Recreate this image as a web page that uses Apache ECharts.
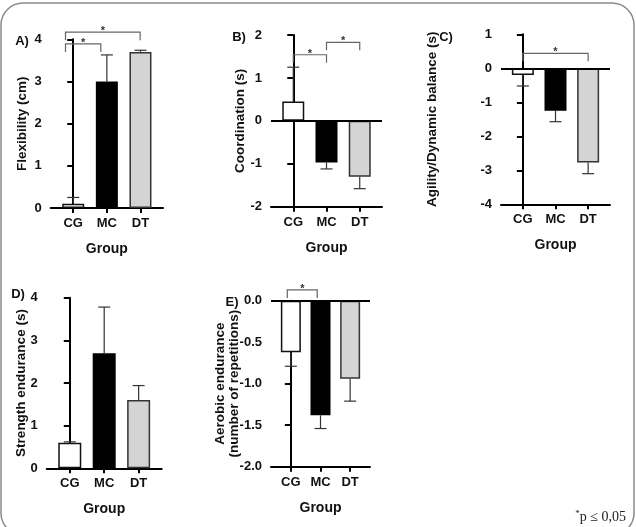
<!DOCTYPE html>
<html>
<head>
<meta charset="utf-8">
<script src="https://cdn.jsdelivr.net/npm/echarts@6/dist/echarts.min.js"></script>
<style>
html,body{margin:0;padding:0;background:#fff;}
#chart{width:636px;height:527px;}
</style>
</head>
<body>
<div id="chart"></div>
<script>
// ---------- data ----------
const categories = ['CG', 'MC', 'DT'];

const flexibilityMean = [0.1, 3.0, 3.7];
const flexibilitySem  = [0.15, 0.63, 0.04];

const coordinationMean = [0.45, -0.97, -1.3];
const coordinationSem  = [0.8, 0.15, 0.28];

const agilityMean = [-0.2, -1.25, -2.77];
const agilitySem  = [0.32, 0.32, 0.33];

const strengthMean = [0.6, 2.7, 1.6];
const strengthSem  = [0.02, 1.08, 0.34];

const aerobicMean = [-0.62, -1.38, -0.94];
const aerobicSem  = [0.17, 0.16, 0.27];

// significance brackets: [from position, to position, level]
const flexibilitySig  = [[-0.23, 0.82, 3.89], [-0.23, 1.99, 4.17]];
const coordinationSig = [[0, 1, 1.54], [1, 2, 1.83]];
const agilitySig      = [[0, 2, 0.44]];
const aerobicSig      = [[-0.12, 0.89, 0.13]];

// ---------- helpers ----------
const FONT = '"Liberation Sans", Arial, sans-serif';
const barStyles = [
  { color: '#ffffff', borderColor: '#111', borderWidth: 1.5 },
  { color: '#000000', borderColor: '#000', borderWidth: 1.5 },
  { color: '#d4d4d4', borderColor: '#333', borderWidth: 1.5 }
];

const panels = [
  { mean: flexibilityMean, sem: flexibilitySem, sig: flexibilitySig,
    grid: { left: 50.7, top: 39.3, width: 112.3, height: 168.7 },
    y: { min: 0, max: 4, interval: 1, dec: 0 }, name: 'Flexibility (cm)', nameGap: 21,
    zero: false, barW: 22 },
  { mean: coordinationMean, sem: coordinationSem, sig: coordinationSig,
    grid: { left: 271, top: 35, width: 111, height: 171.7 },
    y: { min: -2, max: 2, interval: 1, dec: 0 }, name: 'Coordination (s)', nameGap: 24,
    zero: true, barW: 22 },
  { mean: agilityMean, sem: agilitySem, sig: agilitySig,
    grid: { left: 501, top: 34.3, width: 109, height: 170 },
    y: { min: -4, max: 1, interval: 1, dec: 0 }, name: 'Agility/Dynamic balance (s)', nameGap: 62,
    zero: true, barW: 22 },
  { mean: strengthMean, sem: strengthSem, sig: [],
    grid: { left: 46.7, top: 297.7, width: 115, height: 170.6 },
    y: { min: 0, max: 4, interval: 1, dec: 0 }, name: 'Strength endurance (s)', nameGap: 18,
    zero: false, barW: 23 },
  { mean: aerobicMean, sem: aerobicSem, sig: aerobicSig,
    grid: { left: 271, top: 300.7, width: 99, height: 166 },
    y: { min: -2, max: 0, interval: 0.5, dec: 1 }, name: 'Aerobic endurance\n(number of repetitions)', nameGap: 30,
    zero: true, barW: 20 }
];

const grids = [], xAxes = [], yAxes = [], series = [];

panels.forEach((p, gi) => {
  grids.push(Object.assign({}, p.grid));
  xAxes.push({
    type: 'value', gridIndex: gi, min: -0.67, max: 2.67,
    axisLine: { show: true, onZero: false, lineStyle: { color: '#000', width: 2 } },
    axisTick: { show: true, length: 5, customValues: [0, 1, 2], lineStyle: { color: '#000', width: 2 } },
    axisLabel: { customValues: [0, 1, 2], margin: 9, formatter: v => categories[Math.round(v)] || '',
      color: '#111', fontFamily: FONT, fontWeight: 'bold', fontSize: 13 },
    splitLine: { show: false },
    name: 'Group', nameLocation: 'middle', nameGap: 34, nameMoveOverlap: false,
    nameTextStyle: { color: '#111', fontFamily: FONT, fontWeight: 'bold', fontSize: 14 }
  });
  yAxes.push({
    type: 'value', gridIndex: gi, min: p.y.min, max: p.y.max, interval: p.y.interval,
    axisLine: { show: true, lineStyle: { color: '#000', width: 2 } },
    axisTick: { show: true, length: 6, lineStyle: { color: '#000', width: 2 } },
    axisLabel: { margin: 9, formatter: v => v.toFixed(p.y.dec),
      color: '#111', fontFamily: FONT, fontWeight: 'bold', fontSize: 13 },
    splitLine: { show: false },
    name: p.name, nameLocation: 'middle', nameRotate: 90, nameGap: p.nameGap, nameMoveOverlap: false,
    nameTextStyle: { color: '#111', fontFamily: FONT, fontWeight: 'bold', fontSize: 13.5, lineHeight: 14 }
  });

  const bar = {
    type: 'bar', xAxisIndex: gi, yAxisIndex: gi, barWidth: p.barW, silent: true, z: 2,
    data: p.mean.map((m, i) => ({ value: [i, m], itemStyle: barStyles[i] }))
  };
  if (p.zero) {
    bar.markLine = { silent: true, symbol: 'none', label: { show: false },
      lineStyle: { color: '#000', width: 2, type: 'solid' }, data: [{ yAxis: 0 }] };
  }
  series.push(bar);

  series.push({
    type: 'custom', xAxisIndex: gi, yAxisIndex: gi, silent: true, z: 3, clip: false,
    data: p.mean.map((m, i) => [i, m, m + (m >= 0 ? p.sem[i] : -p.sem[i])]),
    encode: { x: 0, y: [1, 2] },
    renderItem: (params, api) => {
      const a = api.coord([api.value(0), api.value(1)]);
      const b = api.coord([api.value(0), api.value(2)]);
      const st = { stroke: '#333', lineWidth: 1.2 };
      return { type: 'group', children: [
        { type: 'line', shape: { x1: a[0], y1: a[1], x2: b[0], y2: b[1] }, style: st },
        { type: 'line', shape: { x1: b[0] - 6, y1: b[1], x2: b[0] + 6, y2: b[1] }, style: st }
      ] };
    }
  });

  if (p.sig.length) {
    series.push({
      type: 'custom', xAxisIndex: gi, yAxisIndex: gi, silent: true, z: 4, clip: false,
      data: p.sig,
      encode: { x: [0, 1], y: 2 },
      renderItem: (params, api) => {
        const a = api.coord([api.value(0), api.value(2)]);
        const b = api.coord([api.value(1), api.value(2)]);
        return { type: 'group', children: [
          { type: 'polyline', shape: { points: [[a[0], a[1] + 8], [a[0], a[1]], [b[0], b[1]], [b[0], b[1] + 8]] },
            style: { stroke: '#666', lineWidth: 1.2, fill: null } },
          { type: 'text', x: (a[0] + b[0]) / 2, y: a[1] - 1,
            style: { text: '*', fill: '#333', font: 'bold 11px ' + FONT, align: 'center', verticalAlign: 'middle' } }
        ] };
      }
    });
  }
});

const panelLetters = [
  { t: 'A)', x: 22, y: 41 }, { t: 'B)', x: 239, y: 37 }, { t: 'C)', x: 446, y: 37 },
  { t: 'D)', x: 18, y: 294 }, { t: 'E)', x: 232, y: 302 }
];

const graphic = [
  { type: 'rect', shape: { x: 1, y: 3, width: 633, height: 532, r: 22 },
    style: { fill: 'none', stroke: '#8a8a8a', lineWidth: 1.5 }, z: -1 },
  { type: 'text', x: 626, y: 517,
    style: { text: '{s|*}{p|p ≤ 0,05}', align: 'right', verticalAlign: 'middle',
      rich: { s: { font: '9px "Liberation Serif", serif', fill: '#222', verticalAlign: 'top', padding: [0, 0, 6, 0] },
              p: { font: '14px "Liberation Serif", serif', fill: '#222' } } } }
].concat(panelLetters.map(l => ({ type: 'text', x: l.x, y: l.y,
  style: { text: l.t, font: 'bold 13px ' + FONT, fill: '#111', align: 'center', verticalAlign: 'middle' } })));

const chart = echarts.init(document.getElementById('chart'), null, { renderer: 'canvas' });
chart.setOption({
  animation: false,
  backgroundColor: '#fff',
  grid: grids, xAxis: xAxes, yAxis: yAxes, series: series, graphic: graphic
});
</script>
</body>
</html>
